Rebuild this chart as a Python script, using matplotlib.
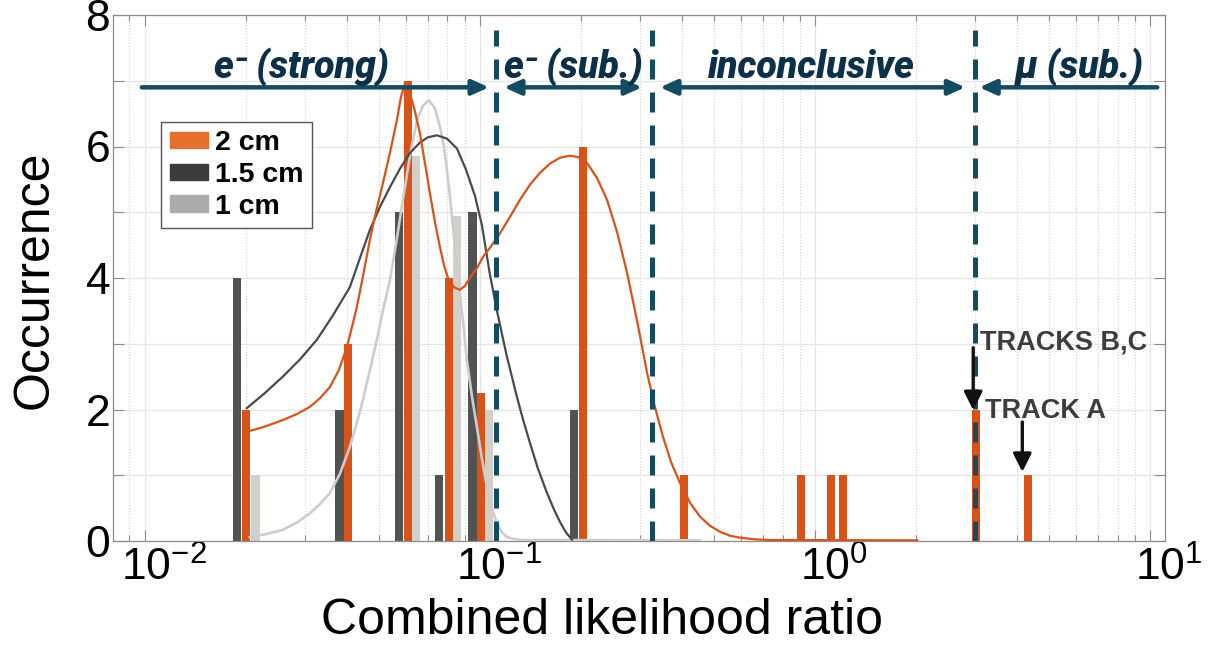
import matplotlib
matplotlib.use("Agg")
from matplotlib import pyplot as plt
from matplotlib import transforms
from matplotlib.patches import Patch, FancyArrowPatch
import numpy as np


# occurrences per likelihood-ratio bin, one series per electrode spacing
x_2cm = [0.0200, 0.0405, 0.0610, 0.0808, 0.1007, 0.203, 0.406, 0.908, 1.112, 1.212, 3.01, 4.31]
n_2cm = [2, 3, 7, 4, 2.25, 6, 1, 1, 1, 1, 2, 1]
x_15cm = [0.0188, 0.0381, 0.0573, 0.0757, 0.0950, 0.191]
n_15cm = [4, 2, 5, 1, 5, 2]
x_1cm = [0.0214, 0.0646, 0.0853, 0.1067]
n_1cm = [1, 5.85, 4.95, 2]

# fitted distributions, x given as log10 of the ratio
fit_2cm_logx = [-1.6896, -1.6418, -1.5881, -1.5463, -1.5075, -1.4776, -1.4478, -1.4209, -1.3970,
                -1.3821, -1.3672, -1.3493, -1.3284, -1.3104, -1.2896, -1.2687, -1.2478, -1.2358,
                -1.2239, -1.2119, -1.1970, -1.1791, -1.1642, -1.1493, -1.1343, -1.1194, -1.1075,
                -1.0955, -1.0776, -1.0597, -1.0448, -1.0299, -1.0090, -0.9910, -0.9672, -0.9403,
                -0.9104, -0.8806, -0.8507, -0.8209, -0.7910, -0.7612, -0.7313, -0.7075, -0.6806,
                -0.6507, -0.6209, -0.5910, -0.5612, -0.5313, -0.5015, -0.4776, -0.4537, -0.4299,
                -0.4030, -0.3731, -0.3433, -0.3134, -0.2836, -0.2537, -0.2239, -0.1791, -0.1343,
                0.3045]
fit_2cm_y = [1.67, 1.74, 1.84, 1.93, 2.04, 2.17, 2.34, 2.60, 2.95,
             3.25, 3.56, 4.02, 4.58, 5.00, 5.44, 5.90, 6.40, 6.75,
             6.96, 6.85, 6.60, 6.20, 5.75, 5.29, 4.85, 4.47, 4.20,
             4.00, 3.86, 3.82, 3.88, 4.00, 4.15, 4.32, 4.48, 4.68,
             4.93, 5.19, 5.42, 5.60, 5.74, 5.83, 5.86, 5.84, 5.75,
             5.52, 5.19, 4.70, 4.08, 3.35, 2.56, 2.03, 1.58, 1.20,
             0.88, 0.58, 0.37, 0.23, 0.14, 0.08, 0.05, 0.025, 0.015,
             0.01]
fit_15cm_logx = [-1.6955, -1.6418, -1.5881, -1.5373, -1.4866, -1.4388, -1.3881, -1.3582, -1.3284,
                 -1.2985, -1.2687, -1.2388, -1.2090, -1.1791, -1.1552, -1.1284, -1.0985, -1.0687,
                 -1.0418, -1.0149, -0.9940, -0.9701, -0.9493, -0.9194, -0.8896, -0.8716, -0.8507,
                 -0.8269, -0.8000, -0.7791, -0.7612, -0.7433, -0.7254]
fit_15cm_y = [2.02, 2.25, 2.50, 2.76, 3.06, 3.43, 3.86, 4.30, 4.73,
              5.08, 5.38, 5.66, 5.90, 6.06, 6.14, 6.17, 6.12, 5.97,
              5.65, 5.25, 4.80, 4.05, 3.50, 2.80, 2.19, 1.85, 1.49,
              1.10, 0.73, 0.48, 0.29, 0.13, 0.02]
fit_1cm_logx = [-1.6866, -1.6418, -1.5881, -1.5463, -1.5075, -1.4776, -1.4478, -1.4179, -1.3881,
                -1.3672, -1.3493, -1.3284, -1.3075, -1.2896, -1.2687, -1.2478, -1.2299, -1.2090,
                -1.1881, -1.1701, -1.1522, -1.1343, -1.1194, -1.1075, -1.0985, -1.0896, -1.0806,
                -1.0687, -1.0597, -1.0478, -1.0388, -1.0239, -1.0090, -0.9940, -0.9791, -0.9642,
                -0.9493, -0.9343, -0.9194, -0.8985, -0.8806, -0.3433]
fit_1cm_y = [0.06, 0.10, 0.17, 0.28, 0.42, 0.56, 0.73, 1.02, 1.43,
             1.80, 2.14, 2.60, 3.06, 3.50, 3.97, 4.60, 5.19, 5.85,
             6.40, 6.62, 6.70, 6.58, 6.30, 6.00, 5.64, 5.25, 4.78,
             4.20, 3.77, 3.20, 2.75, 2.20, 1.73, 1.25, 0.82, 0.50,
             0.27, 0.13, 0.06, 0.03, 0.015, 0.01]

# classification regions
thresholds = [0.1116, 0.325, 2.99]
region_names = ["e\u207b (strong)", "e\u207b (sub.)", "inconclusive", "\u03bc (sub.)"]
labels = ["2 cm", "1.5 cm", "1 cm"]

ORANGE = "#D95319"
DARK = "#525252"
LIGHT = "#D3CFC9"
NAVY = "#134B62"
TEXT_NAVY = "#0C3047"


def log_bars(ax, xs, heights, color, w=0.024):
    # constant visual width on a log axis
    xs = np.asarray(xs)
    left = xs * 10 ** (-w / 2)
    right = xs * 10 ** (w / 2)
    ax.bar(left, heights, width=right - left, align="edge", color=color, linewidth=0, zorder=2)


def region_arrow(ax, x0, x1, y, style):
    arr = FancyArrowPatch((x0, y), (x1, y), arrowstyle=style, mutation_scale=10,
                          color=NAVY, lw=3.2, shrinkA=0, shrinkB=0, zorder=5)
    ax.add_patch(arr)


fig = plt.figure(figsize=(12.08, 6.51), dpi=100)
ax = fig.add_axes([113 / 1208, 110 / 651, 1052 / 1208, 526 / 651])
ax.set_xscale("log")
ax.set_xlim(0.00804, 11.06)
ax.set_ylim(0, 8)

log_bars(ax, x_15cm, n_15cm, DARK)
log_bars(ax, x_2cm, n_2cm, ORANGE)
log_bars(ax, x_1cm, n_1cm, LIGHT)

ax.plot(10 ** np.array(fit_1cm_logx), fit_1cm_y, color="#CDCDCD", lw=1.9, zorder=3)
ax.plot(10 ** np.array(fit_15cm_logx), fit_15cm_y, color="#4A4A4A", lw=1.6, zorder=3.1)
ax.plot(10 ** np.array(fit_2cm_logx), fit_2cm_y, color=ORANGE, lw=1.6, zorder=3.2)

for t in thresholds:
    ax.plot([t, t], [0, 7.77], color=NAVY, lw=3.6, linestyle=(0, (4, 2.6)), zorder=4)

# region arrows and names
arrow_y = 6.9
head = "head_length=1.0,head_width=0.45"
region_arrow(ax, 0.0098, 0.1064, arrow_y, "-|>," + head)
region_arrow(ax, 0.1180, 0.3045, arrow_y, "<|-|>," + head)
region_arrow(ax, 0.3445, 2.804, arrow_y, "<|-|>," + head)
region_arrow(ax, 3.088, 10.49, arrow_y, "<|-," + head)

name_x = [0.0294, 0.1895, 0.973, 6.14]
for nx, name in zip(name_x, region_names):
    ax.text(nx, 7.04, name, ha="center", va="baseline", fontsize=27, fontweight="black",
            fontstyle="italic", family=["Roboto", "DejaVu Sans"], color=TEXT_NAVY, zorder=6)

# tracks of interest
track_arrow = dict(arrowstyle="-|>,head_length=1.1,head_width=0.55", mutation_scale=10,
                   color="#111111", lw=2.4, shrinkA=0, shrinkB=0)
ax.annotate("", xy=(2.962, 1.99), xytext=(2.962, 2.94), arrowprops=track_arrow, zorder=6)
ax.annotate("", xy=(4.15, 1.05), xytext=(4.15, 1.81), arrowprops=track_arrow, zorder=6)
ax.text(3.108, 2.905, "TRACKS B,C", fontsize=19.5, fontweight="bold", family="Liberation Sans",
        color="#3D3D3D", va="baseline", zorder=6)
ax.text(3.216, 1.87, "TRACK A", fontsize=19.5, fontweight="bold", family="Liberation Sans",
        color="#3D3D3D", va="baseline", zorder=6)

# axes styling
ax.set_yticks(range(0, 9))
ax.set_yticklabels([str(v) if v % 2 == 0 else "" for v in range(0, 9)])
ax.grid(True, which="major", color="#E6E6E6", lw=0.9, zorder=0)
ax.grid(True, which="minor", axis="x", color="#D2D2D2", lw=0.8, linestyle=":", zorder=0)
ax.set_axisbelow(True)
for side in ax.spines.values():
    side.set_color("#8C8C8C")
    side.set_linewidth(0.9)
ax.tick_params(which="both", direction="in", top=True, right=True, color="#8C8C8C", width=0.8)
ax.tick_params(which="major", length=8)
ax.tick_params(which="minor", length=4.5)
ax.tick_params(axis="y", which="minor", left=False, right=False)
ax.tick_params(axis="x", labelsize=32, pad=4)
ax.tick_params(axis="y", labelsize=32, pad=2)
for lab in ax.get_xticklabels() + ax.get_yticklabels():
    lab.set_family("Liberation Sans")

ax.set_xlabel("Combined likelihood ratio", fontsize=36, family="Liberation Sans")
ax.set_ylabel("Occurrence", fontsize=36, family="Liberation Sans")
ax.xaxis.set_label_coords(0.465, -0.108)
ax.yaxis.set_label_coords(-0.053, 0.496)

shift = transforms.ScaledTranslation(19 / 100, 0, fig.dpi_scale_trans)
for lab in ax.get_xticklabels():
    lab.set_transform(lab.get_transform() + shift)

handles = [Patch(color="#E8702F"), Patch(color="#3A3A3A"), Patch(color="#ABABAB")]
leg = ax.legend(handles, labels, loc="upper left", bbox_to_anchor=(0.0456, 0.797), borderaxespad=0,
                prop={"family": "Liberation Sans", "weight": "bold", "size": 20.5},
                fancybox=False, edgecolor="#555555", framealpha=1, handlelength=1.35,
                handleheight=0.5, handletextpad=0.25, borderpad=0.3, labelspacing=0.2)
leg.get_frame().set_linewidth(1.0)
leg.set_zorder(7)

fig.savefig("out.png", dpi=100)
